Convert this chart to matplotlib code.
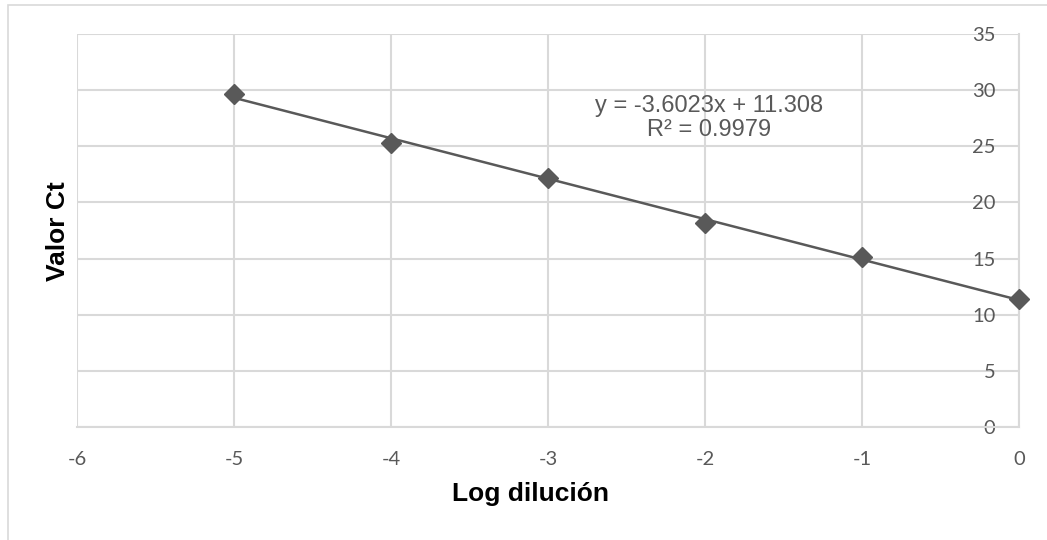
import matplotlib.pyplot as plt
import numpy as np
from matplotlib.patches import Rectangle

plt.rcParams['axes.unicode_minus'] = False

# data
log_dil = [-5, -4, -3, -2, -1, 0]
ct = [29.7, 25.3, 22.2, 18.2, 15.1, 11.4]
slope, intercept = -3.6023, 11.308
eq_text = "y = -3.6023x + 11.308\nR² = 0.9979"
xticks = [-6, -5, -4, -3, -2, -1, 0]
yticks = [0, 5, 10, 15, 20, 25, 30, 35]

grid_c = '#d9d9d9'
dark = '#595959'

fig = plt.figure(figsize=(10.47, 5.40), dpi=100)
ax = fig.add_axes([77 / 1047, 1 - 427 / 540, 942 / 1047, 393 / 540])

# outer chart border (only top and left visible in the crop)
fig.add_artist(Rectangle((8 / 1047, -0.2), 1.5, 1.2 - 5 / 540, transform=fig.transFigure,
                         fill=False, edgecolor=grid_c, linewidth=1.2))

ax.set_xlim(-6, 0)
ax.set_ylim(0, 35)
ax.set_xticks(xticks)
ax.set_yticks(yticks)
ax.grid(True, color=grid_c, linewidth=1.5)
ax.set_axisbelow(True)

ax.spines['top'].set_color('none')
ax.spines['left'].set_color('none')
for s in ['bottom', 'right']:
    ax.spines[s].set_color(grid_c)
    ax.spines[s].set_linewidth(1.5)

# value axis crosses at x = 0, labels sit just left of it
ax.yaxis.tick_right()
ax.tick_params(axis='both', length=0, labelcolor=dark, labelsize=14.5)
ax.tick_params(axis='x', pad=17)
ax.tick_params(axis='y', pad=-17)
for lab in ax.get_yticklabels():
    lab.set_horizontalalignment('right')
for lab in ax.get_xticklabels() + ax.get_yticklabels():
    lab.set_family('Lato')

# trendline
xf = np.array([log_dil[0], log_dil[-1]])
ax.plot(xf, slope * xf + intercept, color=dark, linewidth=1.8, zorder=3)
ax.plot(log_dil, ct, linestyle='none', marker='D', markersize=10,
        color=dark, zorder=4, clip_on=False)

ax.text(0.671, 0.786, eq_text, transform=ax.transAxes, ha='center', va='center',
        fontsize=17, color=dark, family='Liberation Sans', linespacing=1.1)

ax.set_xlabel('Log dilución', fontsize=19, fontweight='bold', family='Liberation Sans')
ax.xaxis.set_label_coords((531 - 77) / 942, -(494 - 427) / 393)
ax.set_ylabel('Valor Ct', fontsize=19, fontweight='bold', family='Liberation Sans')
ax.yaxis.set_label_position('left')
ax.yaxis.set_label_coords(-(77 - 58) / 942, (427 - 231) / 393)
ax.xaxis.label.set_va('center')
ax.yaxis.label.set_va('center')

fig.savefig('out.png', dpi=100)
